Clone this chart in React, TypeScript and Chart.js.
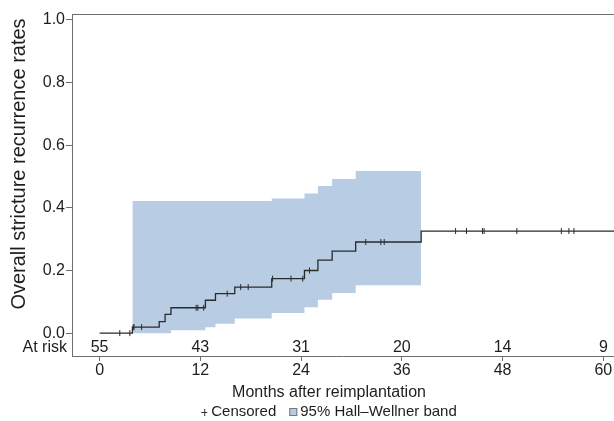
import { useEffect, useRef } from "react";
import { Chart, registerables } from "chart.js";

Chart.register(...registerables);

const FONT = '"Liberation Sans", Arial, sans-serif';

// Kaplan–Meier style cumulative recurrence curve (months, rate)
const curveTimes = [0, 3.9, 7.1, 7.8, 8.5, 12.6, 13.8, 16.1, 20.5, 24.4, 26.0, 27.7, 30.5, 38.3, 62];
const curveRates = [0, 0.019, 0.037, 0.06, 0.081, 0.105, 0.126, 0.147, 0.174, 0.2, 0.233, 0.262, 0.291, 0.326, 0.326];

// 95% Hall–Wellner band
const bandTimes = [3.9, 8.5, 12.6, 13.8, 16.1, 20.5, 24.4, 26.0, 27.7, 30.5, 38.3];
const bandLower = [0, 0.009, 0.019, 0.03, 0.047, 0.064, 0.083, 0.107, 0.128, 0.153, 0.153];
const bandUpper = [0.422, 0.422, 0.422, 0.422, 0.422, 0.43, 0.446, 0.47, 0.492, 0.518, 0.518];

// censored observations (months)
const censorTimes = [2.4, 3.6, 4.0, 4.1, 5.0, 11.5, 11.7, 12.4, 15.2, 16.8, 17.7, 20.6, 22.8, 24.2, 25.0, 31.7, 33.5, 33.9, 42.4, 43.7, 45.6, 45.8, 49.7, 55.0, 55.9, 56.5];

// number at risk
const atRiskTimes = [0, 12, 24, 36, 48, 60];
const atRiskCounts = [55, 43, 31, 20, 14, 9];

const yTicks = [0, 0.2, 0.4, 0.6, 0.8, 1.0];

const xTitle = "Months after reimplantation";
const yTitle = "Overall stricture recurrence rates";
const legendCensored = "Censored";
const legendBand = "95% Hall\u2013Wellner band";

const BAND_COLOR = "#b8cce4";
const LINE_COLOR = "#2b2b2b";
const AXIS_COLOR = "#6e6e6e";
const TEXT_COLOR = "#1e1e1e";

function rateAt(t: number): number {
  let v = curveRates[0];
  for (let i = 0; i < curveTimes.length; i++) {
    if (curveTimes[i] <= t) v = curveRates[i];
  }
  return v;
}

const decorPlugin = {
  id: "decor",
  afterDraw(chart: any) {
    const { ctx, chartArea, scales } = chart;
    const xs = scales.x;
    ctx.save();
    // top frame line
    ctx.strokeStyle = AXIS_COLOR;
    ctx.lineWidth = 1;
    ctx.beginPath();
    ctx.moveTo(chartArea.left, Math.round(chartArea.top) + 0.5);
    ctx.lineTo(chartArea.right, Math.round(chartArea.top) + 0.5);
    ctx.stroke();

    // at-risk row
    ctx.fillStyle = TEXT_COLOR;
    ctx.font = `16px ${FONT}`;
    ctx.textBaseline = "middle";
    ctx.textAlign = "center";
    const ry = chartArea.bottom - 8;
    atRiskTimes.forEach((t, i) => {
      ctx.fillText(String(atRiskCounts[i]), xs.getPixelForValue(t), ry);
    });
    ctx.textAlign = "right";
    ctx.fillText("At risk", chartArea.left - 5, ry);

    // x title
    ctx.textAlign = "center";
    ctx.fillText(xTitle, 329, 393);

    // y title
    ctx.save();
    ctx.translate(19, 164);
    ctx.rotate(-Math.PI / 2);
    ctx.font = `20px ${FONT}`;
    ctx.textAlign = "center";
    ctx.fillText(yTitle, 0, 0);
    ctx.restore();

    // legend
    ctx.font = `15px ${FONT}`;
    ctx.textAlign = "left";
    const ly = 412;
    const wC = ctx.measureText(legendCensored).width;
    const wB = ctx.measureText(legendBand).width;
    const total = 7 + 3 + wC + 13 + 8 + 3 + wB;
    let x = 329 - total / 2;
    ctx.strokeStyle = "#333";
    ctx.lineWidth = 1;
    ctx.beginPath();
    ctx.moveTo(x, ly + 0.5);
    ctx.lineTo(x + 6, ly + 0.5);
    ctx.moveTo(x + 3.5, ly - 3);
    ctx.lineTo(x + 3.5, ly + 4);
    ctx.stroke();
    x += 7 + 3;
    ctx.fillText(legendCensored, x, ly);
    x += wC + 13;
    ctx.fillStyle = BAND_COLOR;
    ctx.fillRect(x, ly - 4, 8, 8);
    ctx.strokeStyle = "#777";
    ctx.strokeRect(x + 0.5, ly - 3.5, 7, 7);
    x += 8 + 3;
    ctx.fillStyle = TEXT_COLOR;
    ctx.fillText(legendBand, x, ly);
    ctx.restore();
  },
};

export default function App() {
  const canvasRef = useRef<HTMLCanvasElement | null>(null);

  useEffect(() => {
    document.body.style.margin = "0";
    const canvas = canvasRef.current;
    if (!canvas) return;

    const chart = new Chart(canvas, {
      type: "line",
      data: {
        datasets: [
          {
            label: "lower",
            data: bandTimes.map((t, i) => ({ x: t, y: bandLower[i] })),
            stepped: "before",
            borderWidth: 0,
            borderColor: "rgba(0,0,0,0)",
            pointRadius: 0,
            fill: false,
            order: 3,
          },
          {
            label: legendBand,
            data: bandTimes.map((t, i) => ({ x: t, y: bandUpper[i] })),
            stepped: "before",
            borderWidth: 0,
            borderColor: "rgba(0,0,0,0)",
            backgroundColor: BAND_COLOR,
            pointRadius: 0,
            fill: "-1",
            order: 3,
          },
          {
            label: "curve",
            data: curveTimes.map((t, i) => ({ x: t, y: curveRates[i] })),
            stepped: "before",
            borderColor: LINE_COLOR,
            borderWidth: 1.3,
            pointRadius: 0,
            fill: false,
            order: 1,
          },
          {
            label: legendCensored,
            data: censorTimes.map((t) => ({ x: t, y: rateAt(t) })),
            showLine: false,
            pointStyle: "line",
            rotation: 90,
            pointRadius: 3,
            pointBorderColor: LINE_COLOR,
            pointBorderWidth: 1,
            order: 0,
          },
        ],
      },
      options: {
        animation: false,
        responsive: false,
        maintainAspectRatio: false,
        layout: { autoPadding: false, padding: { left: 0, right: 0, top: 14, bottom: 19 } },
        plugins: {
          legend: { display: false },
          tooltip: { enabled: false },
        },
        scales: {
          x: {
            type: "linear",
            min: -3.29,
            max: 61.27,
            afterBuildTicks: (s: any) => {
              s.ticks = atRiskTimes.map((v) => ({ value: v }));
            },
            afterFit: (s: any) => {
              s.height = 46;
              s.paddingLeft = 0;
              s.paddingRight = 0;
            },
            ticks: {
              font: { family: FONT, size: 16 },
              color: TEXT_COLOR,
              padding: 0,
              maxRotation: 0,
              autoSkip: false,
            },
            grid: {
              display: true,
              drawOnChartArea: false,
              drawTicks: true,
              tickLength: 5,
              color: AXIS_COLOR,
            },
            border: { display: true, color: AXIS_COLOR, width: 1 },
          },
          y: {
            type: "linear",
            min: -0.073,
            max: 1.019,
            afterBuildTicks: (s: any) => {
              s.ticks = yTicks.map((v) => ({ value: v }));
            },
            afterFit: (s: any) => {
              s.width = 72;
            },
            ticks: {
              font: { family: FONT, size: 16 },
              color: TEXT_COLOR,
              padding: 1,
              callback: (v: any) => Number(v).toFixed(1),
            },
            grid: {
              display: true,
              drawOnChartArea: false,
              drawTicks: true,
              tickLength: 6,
              color: AXIS_COLOR,
            },
            border: { display: true, color: AXIS_COLOR, width: 1 },
          },
        },
      },
      plugins: [decorPlugin],
    });

    return () => {
      chart.destroy();
    };
  }, []);

  return (
    <div style={{ width: 614, height: 421 }}>
      <canvas ref={canvasRef} width={614} height={421} style={{ display: "block", width: 614, height: 421 }} />
    </div>
  );
}
